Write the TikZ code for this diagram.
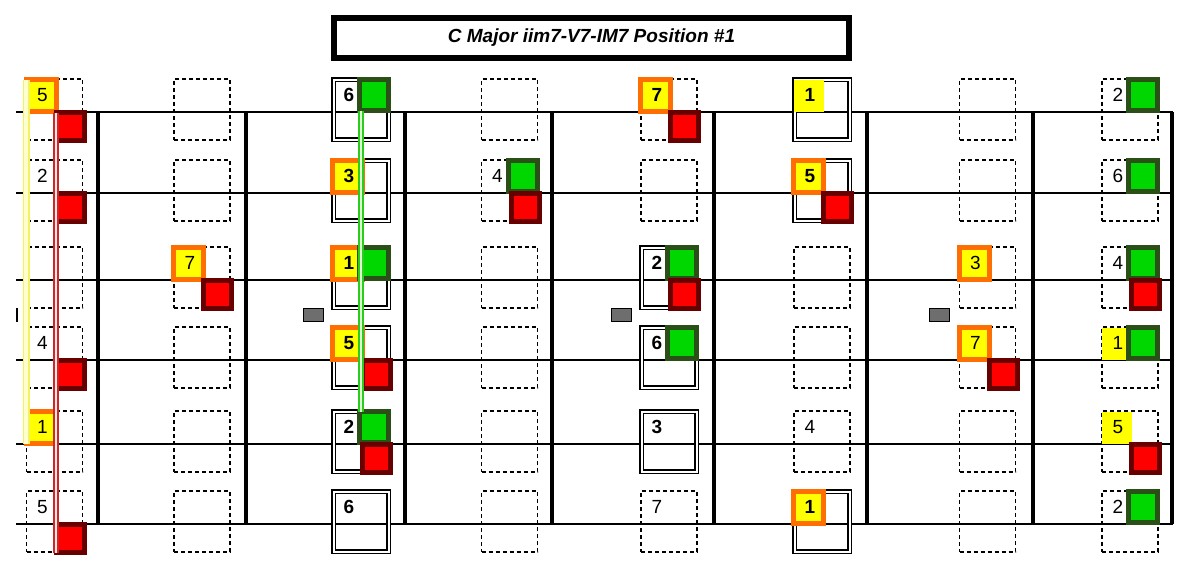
\documentclass[tikz,border=0pt]{standalone}
\usepackage{fontspec}
\setmainfont{Liberation Sans}
\usepackage{xcolor}
\usepackage{tikz}

\definecolor{NoteOrange}{RGB}{255,110,0}
\definecolor{NoteYellow}{RGB}{255,255,0}
\definecolor{NoteRed}{RGB}{255,0,0}
\definecolor{NoteDarkRed}{RGB}{105,0,0}
\definecolor{NoteGreen}{RGB}{0,214,0}
\definecolor{NoteDarkGreen}{RGB}{42,80,24}
\definecolor{MarkGray}{RGB}{110,110,110}
\definecolor{LineYellow}{RGB}{242,242,100}
\definecolor{LinePaleYellow}{RGB}{255,255,205}
\definecolor{LineRed}{RGB}{205,40,40}
\definecolor{LinePaleRed}{RGB}{255,230,230}
\definecolor{LineGreen}{RGB}{40,205,30}
\definecolor{LinePaleGreen}{RGB}{225,255,210}

\begin{document}
\begin{tikzpicture}[x=1pt, y=-1pt,
    stringline/.style={line width=1.8pt},
    fretline/.style={line width=4pt},
    dashbox/.style={draw, line width=1.6pt, dash pattern=on 4pt off 3pt, inner sep=0pt, minimum width=56pt, minimum height=61pt},
    dblbox/.style={draw, double, double distance=2pt, line width=1.5pt, inner sep=0pt, minimum width=55pt, minimum height=60pt},
    ysq/.style={fill=NoteYellow, draw=NoteOrange, line width=5pt, inner sep=0pt, outer sep=0pt, minimum width=30pt, minimum height=32pt},
    yonly/.style={fill=NoteYellow, inner sep=0pt, outer sep=0pt, minimum width=30pt, minimum height=32pt},
    gsq/.style={fill=NoteGreen, draw=NoteDarkGreen, line width=5pt, inner sep=0pt, outer sep=0pt, minimum width=29pt, minimum height=31pt},
    rsq/.style={fill=NoteRed, draw=NoteDarkRed, line width=5pt, inner sep=0pt, outer sep=0pt, minimum size=28pt},
    deg/.style={inner sep=0pt, font=\fontsize{19}{19}\selectfont},
    bdeg/.style={inner sep=0pt, font=\fontsize{19}{19}\selectfont\bfseries},
    marker/.style={fill=MarkGray, draw, line width=1.5pt, inner sep=0pt, minimum width=20pt, minimum height=13pt}
  ]
  \useasboundingbox (0,0) rectangle (1192,570);

  % Title
  \node[draw, line width=5.5pt, inner sep=0pt, minimum width=515pt, minimum height=40pt,
        font=\fontsize{19}{19}\selectfont\bfseries\itshape] (title) at (591.5,38) {C Major iim7-V7-IM7 Position \#1};

  % Grid points: columns (fret spaces) and strings
  \foreach \x [count=\i] in {54.5,202,361,509.5,669,822,987.5,1130}
    \foreach \y [count=\j] in {112,193,280,360,444,524}
      \coordinate (p\i\j) at (\x,\y);

  % Draw the strings and frets
  \foreach \y in {112,193,280,360,444,524}
    \draw[stringline] (16,\y) -- (1173,\y);
  \foreach \x in {98,246,405,552,714,867,1033,1172}
    \draw[fretline] (\x,112) -- (\x,524);
  \draw[line width=2pt] (16.5,308) -- (16.5,322);

  % Position boxes
  \foreach \i/\j in {1/1,1/2,1/3,1/4,1/5,1/6, 2/1,2/2,2/3,2/4,2/5,2/6, 4/1,4/2,4/3,4/4,4/5,4/6,
                     5/1,5/2,5/6, 6/3,6/4,6/5, 7/1,7/2,7/3,7/4,7/5,7/6, 8/1,8/2,8/3,8/4,8/5,8/6}
    \node[dashbox] (b\i\j) at ([yshift=2.5pt]p\i\j) {};
  \foreach \i/\j in {3/1,3/2,3/3,3/4,3/5,3/6, 5/3,5/4,5/5, 6/1,6/2,6/6}
    \node[dblbox] (b\i\j) at ([yshift=2.5pt]p\i\j) {};

  % Fret markers
  \node[marker] (m3) at (313.5,315) {};
  \node[marker] (m5) at (621.5,315) {};
  \node[marker] (m7) at (939.5,315) {};

  % Coloured notes
  \foreach \i/\j in {1/1,1/5,2/3,3/2,3/3,3/4,5/1,6/2,6/6,7/3,7/4}
    \node[ysq] (y\i\j) at ([shift={(-13.5,-16.5)}]p\i\j) {};
  \foreach \i/\j in {6/1,8/4,8/5}
    \node[yonly] (y\i\j) at ([shift={(-13.5,-16.5)}]p\i\j) {};
  \foreach \i/\j in {3/1,3/3,3/5,4/2,5/3,5/4,8/1,8/2,8/3,8/4,8/6}
    \node[gsq] (g\i\j) at ([shift={(13,-17)}]p\i\j) {};
  \foreach \i/\j in {1/1,1/2,1/4,1/6,2/3,3/4,3/5,4/2,5/1,5/3,6/2,7/4,8/3,8/5}
    \node[rsq] (r\i\j) at ([shift={(15.5,14.5)}]p\i\j) {};

  % Scale degrees
  \foreach \i/\j/\t in {1/1/5,1/2/2,1/4/4,1/5/1,1/6/5, 2/3/7, 4/2/4, 5/6/7, 6/5/4,
                        7/3/3,7/4/7, 8/1/2,8/2/6,8/3/4,8/4/1,8/5/5,8/6/2}
    \node[deg] (l\i\j) at ([shift={(-12,-17)}]p\i\j) {\t};
  \foreach \i/\j/\t in {3/1/6,3/2/3,3/3/1,3/4/5,3/5/2,3/6/6, 5/1/7,5/3/2,5/4/6,5/5/3,
                        6/1/1,6/2/5,6/6/1}
    \node[bdeg] (l\i\j) at ([shift={(-12,-17)}]p\i\j) {\t};

  % Connect the notes
  \draw[draw=LineYellow, double=LinePaleYellow, double distance=4pt, line width=1.5pt]
        (y11.north west) -- (y15.south west);
  \draw[draw=LineRed, double=LinePaleRed, double distance=1.5pt, line width=2pt]
        ([xshift=-0.2pt]r11.north west) -- ([xshift=-0.2pt]r16.south west);
  \draw[draw=LineGreen, double=LinePaleGreen, double distance=2.3pt, line width=2pt]
        ([xshift=1.2pt]g31.south west) -- ([xshift=1.2pt]g35.north west);
\end{tikzpicture}
\end{document}
